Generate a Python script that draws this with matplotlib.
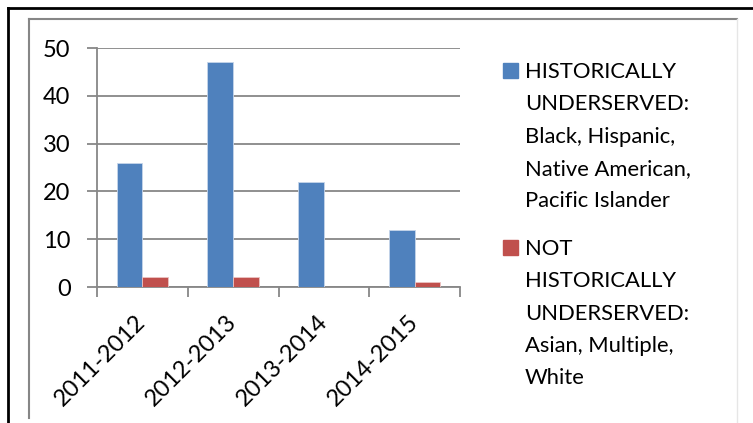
import matplotlib.pyplot as plt
from matplotlib.lines import Line2D
from matplotlib.patches import Rectangle
import numpy as np

years = ['2011-2012', '2012-2013', '2013-2014', '2014-2015']
underserved = [26, 47, 22, 12]
not_underserved = [2, 2, 0, 1]
labels = ['HISTORICALLY\nUNDERSERVED:\nBlack, Hispanic,\nNative American,\nPacific Islander',
          'NOT\nHISTORICALLY\nUNDERSERVED:\nAsian, Multiple,\nWhite']
colors = ['#4F81BD', '#C0504D']

W, H = 753, 423
plt.rcParams['font.family'] = ['Lato', 'DejaVu Sans']

fig = plt.figure(figsize=(W / 100, H / 100), dpi=100)
ax = fig.add_axes([97 / W, 1 - 287 / H, 363 / W, 239 / H])

x = np.arange(len(years))
width = 0.285
ax.bar(x - width / 2, underserved, width, color=colors[0], edgecolor='#C6D5EA', linewidth=0.6, zorder=3)
ax.bar(x + width / 2, not_underserved, width, color=colors[1], edgecolor='#EBC3C2', linewidth=0.6, zorder=3)

ax.set_xlim(-0.5, len(years) - 0.5)
ax.set_ylim(0, 50)
ax.set_yticks(range(0, 51, 10))
ax.yaxis.grid(True, color='#878787', linewidth=1.3, zorder=0)
ax.set_axisbelow(True)

# tick marks sit between categories, labels under the category centres
ax.set_xticks(list(x - 0.5) + [len(years) - 0.5])
ax.set_xticklabels([])
ax.set_xticks(x, minor=True)
ax.set_xticklabels(years, minor=True, rotation=45, ha='right', va='center',
                   rotation_mode='anchor', fontsize=17)
ax.tick_params(axis='x', which='minor', length=0, pad=23)
ax.tick_params(axis='x', which='major', length=7, width=1.3, color='#878787')
ax.tick_params(axis='y', length=7, width=1.3, color='#878787', labelsize=17, pad=12)

for side in ['top', 'right']:
    ax.spines[side].set_visible(False)
for side in ['left', 'bottom']:
    ax.spines[side].set_color('#878787')
    ax.spines[side].set_linewidth(1.3)

# legend: colour square next to the first line of each label
line_step = 32.3
tops = [78, 255]
for label, color, base in zip(labels, colors, tops):
    fig.add_artist(Rectangle((503 / W, 1 - base / H), 15 / W, 15 / H,
                             transform=fig.transFigure, color=color))
    for i, line in enumerate(label.split('\n')):
        fig.text(525 / W, 1 - (base + i * line_step) / H, line, fontsize=15.8,
                 ha='left', va='baseline')

# outer black frame (top and left) and inner gray chart border
fig.add_artist(Line2D([8 / W, 1], [1 - 8 / H] * 2, color='black', linewidth=2))
fig.add_artist(Line2D([8 / W] * 2, [0, 1 - 8 / H], color='black', linewidth=2))
fig.add_artist(Line2D([29 / W, 737 / W], [1 - 19 / H] * 2, color='#868686', linewidth=1.5))
fig.add_artist(Line2D([29 / W] * 2, [1 - 418 / H, 1 - 19 / H], color='#868686', linewidth=1.5))
fig.add_artist(Line2D([737 / W] * 2, [0, 1 - 19 / H], color='#E6E6E6', linewidth=1))

fig.savefig('out.png', dpi=100)
